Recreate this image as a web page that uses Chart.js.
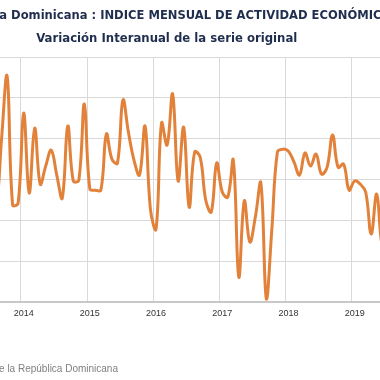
<!DOCTYPE html>
<html>
<head>
<meta charset="utf-8">
<script src="https://cdn.jsdelivr.net/npm/chart.js@4.4.1/dist/chart.umd.min.js"></script>
<style>
    html, body { margin: 0; padding: 0; background: #fff; }
    #frame { position: relative; width: 380px; height: 380px; overflow: hidden; }
    #imaeChart { position: absolute; left: -57px; top: 0; }
    #fuente {
        position: absolute; left: -300px; width: 418px; top: 364px;
        text-align: right; font: 10px 'Liberation Sans', sans-serif; color: #7f7f7f;
        line-height: 10px; white-space: nowrap;
    }
</style>
</head>
<body>
<div id="frame">
    <canvas id="imaeChart" width="448" height="380"></canvas>
    <div id="fuente">Fuente: Banco Central de la República Dominicana</div>
</div>
<script>
const years = [2013, 2014, 2015, 2016, 2017, 2018, 2019];
const monthNames = ['ene', 'feb', 'mar', 'abr', 'may', 'jun', 'jul', 'ago', 'sep', 'oct', 'nov', 'dic'];

// variación interanual (%), ene-2013 .. jul-2019
const var2013 = [1.8, 1.2, 3.0, 2.2, 2.6, 3.4, 4.1, 4.5, 8.0, 11.07, 4.75, 4.85];
const var2014 = [9.26, 5.34, 8.52, 5.78, 6.66, 7.44, 6.22, 5.09, 8.62, 5.93, 5.97, 9.70];
const var2015 = [5.53, 5.48, 5.48, 8.23, 7.0, 6.8, 9.9, 8.3, 6.95, 6.22, 8.62, 4.5];
const var2016 = [3.57, 8.77, 7.69, 10.19, 5.93, 8.57, 4.65, 7.35, 7.1, 5.0, 4.41, 6.81];
const var2017 = [5.39, 5.14, 6.95, 1.22, 4.95, 2.94, 4.16, 5.83, 0.15, 3.6, 7.35, 7.49];
const var2018 = [7.39, 6.86, 6.22, 7.3, 6.66, 7.25, 6.27, 6.6, 8.18, 6.6, 6.76, 5.48];
const var2019 = [5.93, 5.78, 5.39, 3.33, 5.29, 2.8, 4.0];

const values = [].concat(var2013, var2014, var2015, var2016, var2017, var2018, var2019);
const labels = years.flatMap(y => monthNames.map(m => m + '-' + y)).slice(0, values.length);

const gridColor = '#d9d9d9';
const titleFont = { family: 'DejaVu Sans', size: 11.7, weight: 'bold' };

new Chart(document.getElementById('imaeChart'), {
    type: 'line',
    data: {
        labels: labels,
        datasets: [{
            label: 'IMAE',
            data: values,
            borderColor: '#e2823a',
            borderWidth: 3,
            pointRadius: 0,
            tension: 0.4,
            fill: false
        }]
    },
    options: {
        responsive: false,
        animation: false,
        layout: { padding: { left: 0, right: 0.5, top: 0, bottom: 48 } },
        plugins: {
            legend: { display: false },
            tooltip: { enabled: false },
            title: {
                display: true,
                text: 'República Dominicana : INDICE MENSUAL DE ACTIVIDAD ECONÓMICA',
                color: '#1f2d4e',
                font: titleFont,
                padding: { top: 9, bottom: 9 }
            },
            subtitle: {
                display: true,
                text: 'Variación Interanual de la serie original',
                color: '#1f2d4e',
                font: titleFont,
                padding: { top: 0, bottom: 11 }
            }
        },
        scales: {
            x: {
                offset: true,
                grid: {
                    offset: true,
                    drawTicks: false,
                    color: c => (c.tick && c.index % 12 === 0) ? gridColor : 'rgba(0,0,0,0)'
                },
                border: { color: '#c8c8c8', width: 2 },
                ticks: {
                    autoSkip: false,
                    maxRotation: 0,
                    padding: 0,
                    color: '#333333',
                    font: { family: 'Liberation Sans', size: 9, lineHeight: 2.6 },
                    callback: (v, i) => i % 12 === 0 ? String(years[i / 12]) : ''
                },
                afterFit: s => { s.height = 30; }
            },
            y: {
                min: 0,
                max: 12,
                grid: { color: gridColor, drawTicks: false },
                border: { display: false },
                ticks: {
                    stepSize: 2,
                    padding: 6,
                    color: '#404040',
                    font: { family: 'Liberation Sans', size: 8.5 }
                },
                afterFit: s => { s.width = 11.7; }
            }
        }
    }
});
</script>
</body>
</html>
